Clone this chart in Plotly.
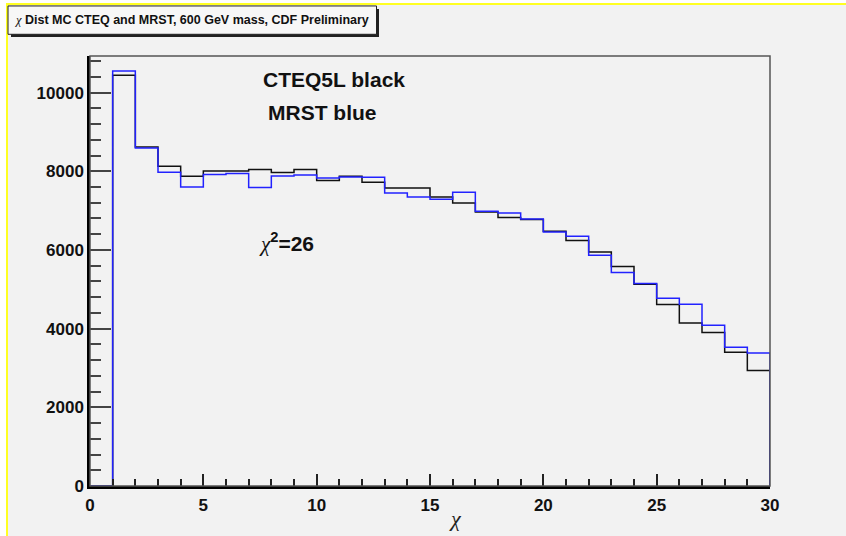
import plotly.graph_objects as go

# ---- data (bin contents, chi bins of width 1 from 0 to 30) ----
bin_edges = list(range(0, 31))
cteq5l = [0, 10440, 8617, 8127, 7872, 8007, 8007, 8043, 7966, 8043,
          7763, 7872, 7720, 7575, 7575, 7346, 7194, 6965, 6823, 6772,
          6474, 6238, 5948, 5577, 5127, 4611, 4143, 3899, 3399, 2933]
mrst = [0, 10549, 8592, 7974, 7600, 7916, 7941, 7585, 7880, 7905,
        7829, 7855, 7847, 7448, 7346, 7288, 7466, 6983, 6940, 6787,
        6457, 6347, 5864, 5425, 5145, 4771, 4619, 4085, 3526, 3381]
x_ticks = [0, 5, 10, 15, 20, 25, 30]
y_ticks = [0, 2000, 4000, 6000, 8000, 10000]

W, H = 846, 536
L, R, T, B = 90, 770, 56, 485.7
BG = "#f2f2f2"


def px(x):
    return (x - L) / (R - L)


def py(y):
    return (B - y) / (B - T)


def step(values):
    xs = list(bin_edges) + [bin_edges[-1]]
    ys = list(values) + [values[-1], 0]
    return xs, ys


fig = go.Figure()
for vals, col in [(cteq5l, "#111111"), (mrst, "#2222ff")]:
    xs, ys = step(vals)
    fig.add_trace(go.Scatter(x=xs, y=ys, mode="lines", line_shape="hv",
                             line=dict(color=col, width=1.5),
                             showlegend=False, hoverinfo="skip"))

shapes = [
    # canvas with yellow border (left and top)
    dict(type="rect", xref="paper", yref="paper", layer="below",
         x0=px(7), x1=px(900), y0=py(600), y1=py(4),
         fillcolor=BG, line=dict(color="#ffff22", width=2)),
    # frame
    dict(type="rect", xref="paper", yref="paper", layer="above",
         x0=0, x1=1, y0=0, y1=1, line=dict(color="#555555", width=1.5)),
    # title box shadow
    dict(type="rect", xref="paper", yref="paper", layer="above",
         x0=px(11), x1=px(379), y0=py(37), y1=py(9),
         fillcolor="#222222", line=dict(width=0)),
    # title box
    dict(type="rect", xref="paper", yref="paper", layer="above",
         x0=px(8), x1=px(376.5), y0=py(34.3), y1=py(6),
         fillcolor="#f7f7f7", line=dict(color="#222222", width=1)),
]

annotations = [
    dict(text="<span style='font-family:Liberation Serif;font-weight:normal;font-style:italic'>χ</span> "
              "Dist MC CTEQ and MRST, 600 GeV mass, CDF Preliminary",
         xref="paper", yref="paper", x=px(192), y=py(20.5), xanchor="center",
         yanchor="middle", showarrow=False,
         font=dict(family="Liberation Sans", size=12.5,
                   color="#111111", weight="bold")),
    dict(text="CTEQ5L black", xref="paper", yref="paper", x=px(261), y=py(79.5),
         xanchor="left", yanchor="middle", showarrow=False,
         font=dict(family="Liberation Sans", size=21, color="#111111", weight="bold")),
    dict(text="MRST blue", xref="paper", yref="paper", x=px(266), y=py(112),
         xanchor="left", yanchor="middle", showarrow=False,
         font=dict(family="Liberation Sans", size=21, color="#111111", weight="bold")),
    dict(text="<span style='font-family:Liberation Serif;font-weight:normal;font-style:italic'>χ</span>"
              "<sup>2</sup>=26",
         xref="paper", yref="paper", x=px(257), y=py(242), xanchor="left",
         yanchor="middle", showarrow=False,
         font=dict(family="Liberation Sans", size=21, color="#111111", weight="bold")),
    dict(text="χ", xref="paper", yref="paper", x=px(455), y=py(518),
         xanchor="center", yanchor="middle", showarrow=False,
         font=dict(family="Liberation Serif", size=22, color="#222222", style="italic")),
]

tickfont = dict(family="Liberation Sans", size=17, color="#111111", weight="bold")

fig.update_layout(
    width=W, height=H,
    margin=dict(l=L, r=W - R, t=T, b=H - B, pad=0),
    paper_bgcolor="white", plot_bgcolor="rgba(0,0,0,0)",
    shapes=shapes, annotations=annotations,
    xaxis=dict(range=[0, 30], tickvals=x_ticks, ticktext=[str(v) for v in x_ticks],
               ticks="inside", ticklen=12, tickwidth=1.5, tickcolor="#222222",
               minor=dict(dtick=1, ticks="inside", ticklen=7, tickwidth=1.5,
                          tickcolor="#222222", showgrid=False),
               showgrid=False, zeroline=False, showline=True, linecolor="#000000",
               linewidth=2.5, tickfont=tickfont, ticklabelstandoff=2),
    yaxis=dict(range=[0, 10930], tickvals=y_ticks, ticktext=[str(v) for v in y_ticks],
               ticks="inside", ticklen=21, tickwidth=1.5, tickcolor="#444444",
               minor=dict(dtick=400, ticks="inside", ticklen=11, tickwidth=1.5,
                          tickcolor="#444444", showgrid=False),
               showgrid=False, zeroline=False, showline=True, linecolor="#000000",
               linewidth=2.5, tickfont=tickfont, ticklabelstandoff=0),
)

fig.write_html("out.html")
